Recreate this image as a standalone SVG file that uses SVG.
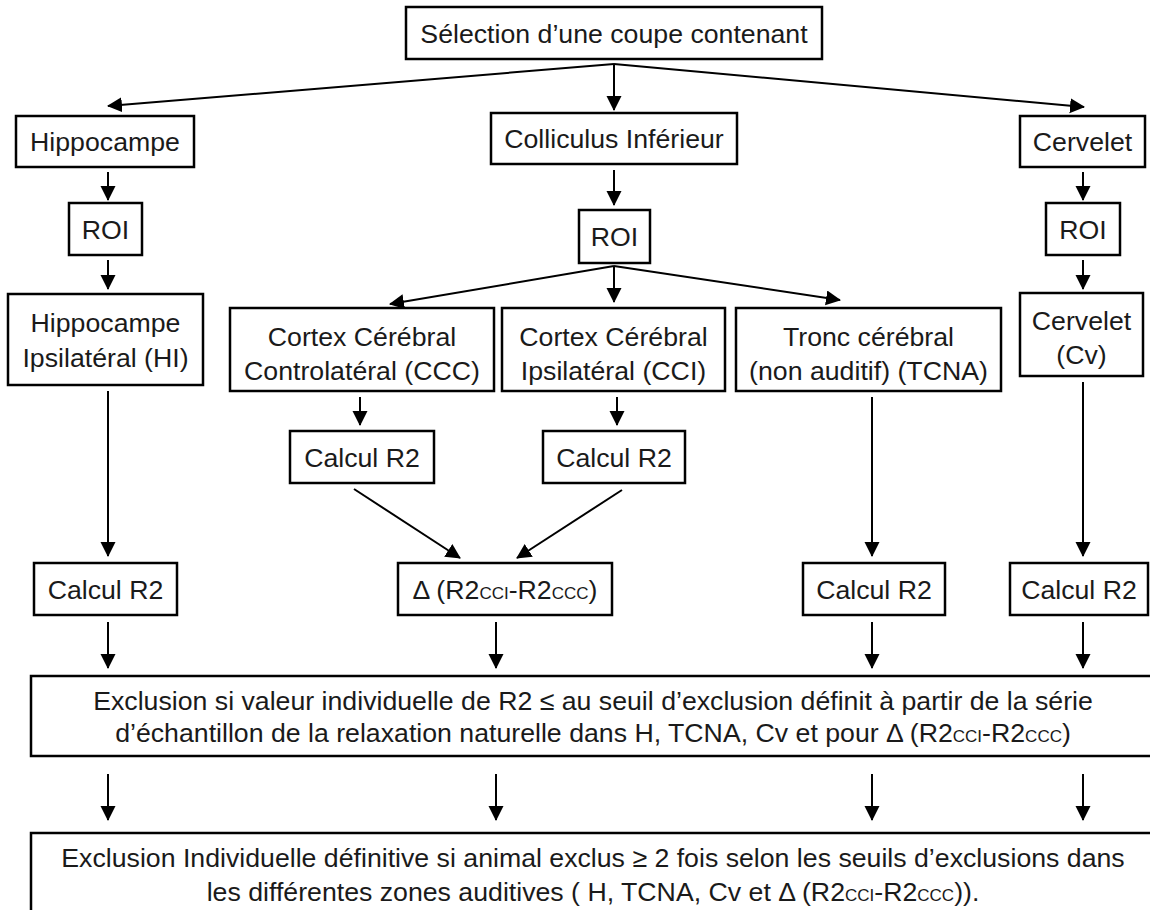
<svg xmlns="http://www.w3.org/2000/svg" width="1150" height="910" viewBox="0 0 1150 910">
<defs>
<marker id="ah" markerUnits="userSpaceOnUse" markerWidth="16" markerHeight="16" refX="14" refY="7.5" orient="auto">
<path d="M0,0 L15,7.5 L0,15 Z" fill="#000"/>
</marker>
<style>
rect.b{fill:#fff;stroke:#000;stroke-width:2.5}
text{font-family:"Liberation Sans",Arial,Helvetica,sans-serif;font-size:26.7px;fill:#1a1a1a;text-anchor:middle}
.sub{font-size:17px}
#connectors line{stroke:#000;stroke-width:2;marker-end:url(#ah)}
</style>
</defs>
<rect width="1150" height="910" fill="#fff"/>
<g id="connectors">
<line x1="614" y1="64" x2="108" y2="106"/>
<line x1="614" y1="64" x2="614" y2="110"/>
<line x1="614" y1="64" x2="1084" y2="107"/>
<line x1="108" y1="172" x2="108" y2="200"/>
<line x1="614" y1="170" x2="614" y2="205"/>
<line x1="1083" y1="172" x2="1083" y2="200"/>
<line x1="108" y1="260" x2="108" y2="289"/>
<line x1="1083" y1="260" x2="1083" y2="289"/>
<line x1="614" y1="266" x2="390" y2="304"/>
<line x1="614" y1="266" x2="614" y2="302"/>
<line x1="614" y1="266" x2="840" y2="300"/>
<line x1="108" y1="391" x2="108" y2="556"/>
<line x1="360" y1="397" x2="360" y2="425"/>
<line x1="617" y1="397" x2="617" y2="425"/>
<line x1="872" y1="397" x2="872" y2="556"/>
<line x1="1083" y1="382" x2="1083" y2="556"/>
<line x1="354" y1="489" x2="460" y2="558"/>
<line x1="622" y1="490" x2="517" y2="558"/>
<line x1="108" y1="622" x2="108" y2="668"/>
<line x1="496" y1="622" x2="496" y2="668"/>
<line x1="872" y1="622" x2="872" y2="668"/>
<line x1="1083" y1="622" x2="1083" y2="668"/>
<line x1="108" y1="774" x2="108" y2="820"/>
<line x1="496" y1="774" x2="496" y2="820"/>
<line x1="872" y1="774" x2="872" y2="820"/>
<line x1="1083" y1="774" x2="1083" y2="820"/>
</g>
<g id="n-selection"><rect class="b" x="406" y="7" width="416" height="52"/><text x="614" y="42.5">Sélection d’une coupe contenant</text></g>
<g id="n-hippocampe"><rect class="b" x="16" y="116" width="178" height="51"/><text x="105" y="151">Hippocampe</text></g>
<g id="n-colliculus"><rect class="b" x="491" y="113" width="246" height="51"/><text x="614" y="148">Colliculus Inférieur</text></g>
<g id="n-cervelet"><rect class="b" x="1020" y="116" width="125" height="51"/><text x="1082.5" y="151">Cervelet</text></g>
<g id="n-roi-h"><rect class="b" x="69" y="203" width="73" height="52"/><text x="105.5" y="238.5">ROI</text></g>
<g id="n-roi-ci"><rect class="b" x="579" y="210" width="71" height="53"/><text x="614.5" y="246">ROI</text></g>
<g id="n-roi-cv"><rect class="b" x="1046" y="203" width="74" height="52"/><text x="1083" y="238.5">ROI</text></g>
<g id="n-hi"><rect class="b" x="8" y="294" width="195" height="91"/><text x="105.5" y="331.5">Hippocampe</text><text x="105.5" y="366.5">Ipsilatéral (HI)</text></g>
<g id="n-ccc"><rect class="b" x="230" y="308" width="264" height="83"/><text x="362" y="345.5">Cortex Cérébral</text><text x="362" y="379.5">Controlatéral (CCC)</text></g>
<g id="n-cci"><rect class="b" x="502" y="308" width="223" height="83"/><text x="613.5" y="345.5">Cortex Cérébral</text><text x="613.5" y="379.5">Ipsilatéral (CCI)</text></g>
<g id="n-tcna"><rect class="b" x="736" y="308" width="265" height="83"/><text x="868.5" y="345.5">Tronc cérébral</text><text x="868.5" y="379.5">(non auditif) (TCNA)</text></g>
<g id="n-cv"><rect class="b" x="1020" y="293" width="123" height="83"/><text x="1081.5" y="329.5">Cervelet</text><text x="1081.5" y="363.5">(Cv)</text></g>
<g id="n-r2-ccc"><rect class="b" x="290" y="431" width="144" height="52"/><text x="362" y="466.5">Calcul R2</text></g>
<g id="n-r2-cci"><rect class="b" x="543" y="431" width="142" height="52"/><text x="614" y="466.5">Calcul R2</text></g>
<g id="n-r2-hi"><rect class="b" x="34" y="563" width="143" height="52"/><text x="105.5" y="598.5">Calcul R2</text></g>
<g id="n-delta"><rect class="b" x="398" y="563" width="214" height="52"/><text x="505" y="598.5">Δ (R2<tspan class="sub">CCI</tspan>-R2<tspan class="sub">CCC</tspan>)</text></g>
<g id="n-r2-tcna"><rect class="b" x="803" y="563" width="142" height="52"/><text x="874" y="598.5">Calcul R2</text></g>
<g id="n-r2-cv"><rect class="b" x="1010" y="563" width="138" height="52"/><text x="1079" y="598.5">Calcul R2</text></g>
<g id="n-exclusion"><rect class="b" x="31" y="676" width="1125" height="80"/><text x="593" y="709.5">Exclusion si valeur individuelle de R2 ≤ au seuil d’exclusion définit à partir de la série</text><text x="593" y="741.5">d’échantillon de la relaxation naturelle dans H, TCNA, Cv et pour Δ (R2<tspan class="sub">CCI</tspan>-R2<tspan class="sub">CCC</tspan>)</text></g>
<g id="n-final"><rect class="b" x="31" y="833" width="1125" height="90"/><text x="593" y="867">Exclusion Individuelle définitive si animal exclus ≥ 2 fois selon les seuils d’exclusions dans</text><text x="593" y="901">les différentes zones auditives ( H, TCNA, Cv et Δ (R2<tspan class="sub">CCI</tspan>-R2<tspan class="sub">CCC</tspan>)).</text></g>
</svg>
